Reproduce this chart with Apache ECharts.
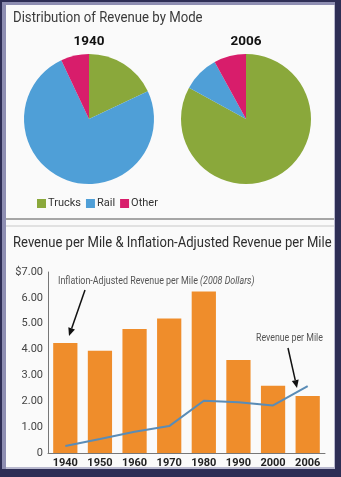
<!DOCTYPE html>
<html>
<head>
<meta charset="utf-8">
<script src="https://cdn.jsdelivr.net/npm/echarts@6/dist/echarts.min.js"></script>
<style>
  html, body { margin: 0; padding: 0; background: #fafafa; }
  #wrap { position: relative; width: 341px; height: 477px; }
  #chart { position: absolute; left: 0; top: 0; width: 341px; height: 477px; }
  #frame {
    position: absolute; left: 0; top: 0; width: 341px; height: 477px;
    box-sizing: border-box; pointer-events: none;
    border-style: solid; border-color: #2e2e55;
    border-width: 2px 6px 8px 2px;
    box-shadow: inset 4px 3px 0 0 #8e8eb2, inset -1px -2px 0 0 #b9b9cf;
  }
</style>
</head>
<body>
<div id="wrap">
  <div id="chart"></div>
  <div id="frame"></div>
</div>
<script>
// pie data (percent of revenue)
const modes = ['Trucks', 'Rail', 'Other'];
const share1940 = [18, 75, 7];
const share2006 = [83, 9, 8];
const modeColors = ['#8aa83b', '#4f9fd7', '#d81d6b'];

// revenue per mile
const years = ['1940', '1950', '1960', '1970', '1980', '1990', '2000', '2006'];
const adjusted = [4.25, 3.95, 4.8, 5.2, 6.25, 3.6, 2.6, 2.2];
const nominal = [0.27, 0.54, 0.82, 1.04, 2.02, 1.96, 1.84, 2.59];
const yTicks = ['0', '1.00', '2.00', '3.00', '4.00', '5.00', '6.00', '$7.00'];

const font = 'Roboto, sans-serif';

function pieData(vals) {
  return modes.map((m, i) => ({ name: m, value: vals[i], itemStyle: { color: modeColors[i] } }));
}

// condensed-looking text (the original uses a narrow face)
function narrowText(x, y, txt, size, color, sx, extra) {
  return Object.assign({
    type: 'text', x: x, y: y, scaleX: sx,
    style: { text: txt, fill: color, fontSize: size, fontFamily: font, verticalAlign: 'middle' }
  }, extra || {});
}

// arrow = line + little head
function arrow(x1, y1, x2, y2) {
  const dx = x2 - x1, dy = y2 - y1;
  const len = Math.sqrt(dx * dx + dy * dy);
  const ux = dx / len, uy = dy / len;
  const hl = 8, hw = 3.5;
  const bx = x2 - ux * hl, by = y2 - uy * hl;
  return [
    { type: 'line', shape: { x1: x1, y1: y1, x2: bx, y2: by }, style: { stroke: '#111', lineWidth: 1.5 } },
    { type: 'polygon', shape: { points: [[x2, y2], [bx - uy * hw, by + ux * hw], [bx + uy * hw, by - ux * hw]] }, style: { fill: '#111' } }
  ];
}

const chart = echarts.init(document.getElementById('chart'));

const annot1 = narrowText(58, 281, 'Inflation-Adjusted Revenue per Mile {i|(2008 Dollars)}', 11, '#555', 0.81);
annot1.style.rich = { i: { fontStyle: 'italic', fontSize: 11, fill: '#555', fontFamily: font } };

chart.setOption({
  backgroundColor: '#fafafa',
  textStyle: { fontFamily: font },
  title: [
    { text: '1940', left: 89, top: 35, textAlign: 'center', padding: 0,
      textStyle: { fontSize: 13.5, fontWeight: 'bold', color: '#111', fontFamily: font } },
    { text: '2006', left: 246, top: 35, textAlign: 'center', padding: 0,
      textStyle: { fontSize: 13.5, fontWeight: 'bold', color: '#111', fontFamily: font } }
  ],
  legend: {
    data: modes, left: 37, top: 198, padding: 0, itemWidth: 9, itemHeight: 9, itemGap: 5,
    icon: 'rect', textStyle: { fontSize: 11, color: '#333', fontFamily: font, padding: [0, 0, 0, -3] }
  },
  grid: { left: 48, right: 16, top: 272, bottom: 24 },
  xAxis: {
    type: 'category', data: years,
    axisLine: { lineStyle: { color: '#777', width: 1 } },
    axisTick: { show: false },
    axisLabel: { fontSize: 11, fontWeight: 'bold', color: '#222', margin: 5, fontFamily: font }
  },
  yAxis: {
    type: 'value', min: 0, max: 7, interval: 1,
    axisLine: { show: true, lineStyle: { color: '#777', width: 1 } },
    axisTick: { show: false },
    splitLine: { show: false },
    axisLabel: { fontSize: 11, color: '#444', margin: 5, fontFamily: font,
      formatter: v => yTicks[Math.round(v)] }
  },
  series: [
    { type: 'pie', center: [89, 119], radius: 65, startAngle: 90, label: { show: false },
      labelLine: { show: false }, silent: true, data: pieData(share1940) },
    { type: 'pie', center: [246, 119], radius: 65, startAngle: 90, label: { show: false },
      labelLine: { show: false }, silent: true, data: pieData(share2006) },
    { type: 'bar', name: 'Inflation-Adjusted Revenue per Mile', data: adjusted,
      barCategoryGap: '30%', itemStyle: { color: '#ef8d2b' } },
    { type: 'line', name: 'Revenue per Mile', data: nominal, symbol: 'none',
      lineStyle: { color: '#5a8cb6', width: 2 } }
  ],
  graphic: [
    narrowText(13, 18, 'Distribution of Revenue by Mode', 15.5, '#3a3a3a', 0.85),
    narrowText(13, 243, 'Revenue per Mile & Inflation-Adjusted Revenue per Mile', 15, '#2e2e2e', 0.87),
    { type: 'line', shape: { x1: 5, y1: 219, x2: 335, y2: 219 }, style: { stroke: '#8a8a8a', lineWidth: 1.5 } },
    { type: 'line', shape: { x1: 5, y1: 226, x2: 335, y2: 226 }, style: { stroke: '#c8c8c8', lineWidth: 1 } },
    annot1,
    narrowText(256, 338, 'Revenue per Mile', 11, '#555', 0.8)
  ].concat(arrow(85, 290, 69, 336), arrow(288, 348, 297, 388))
});
</script>
</body>
</html>
